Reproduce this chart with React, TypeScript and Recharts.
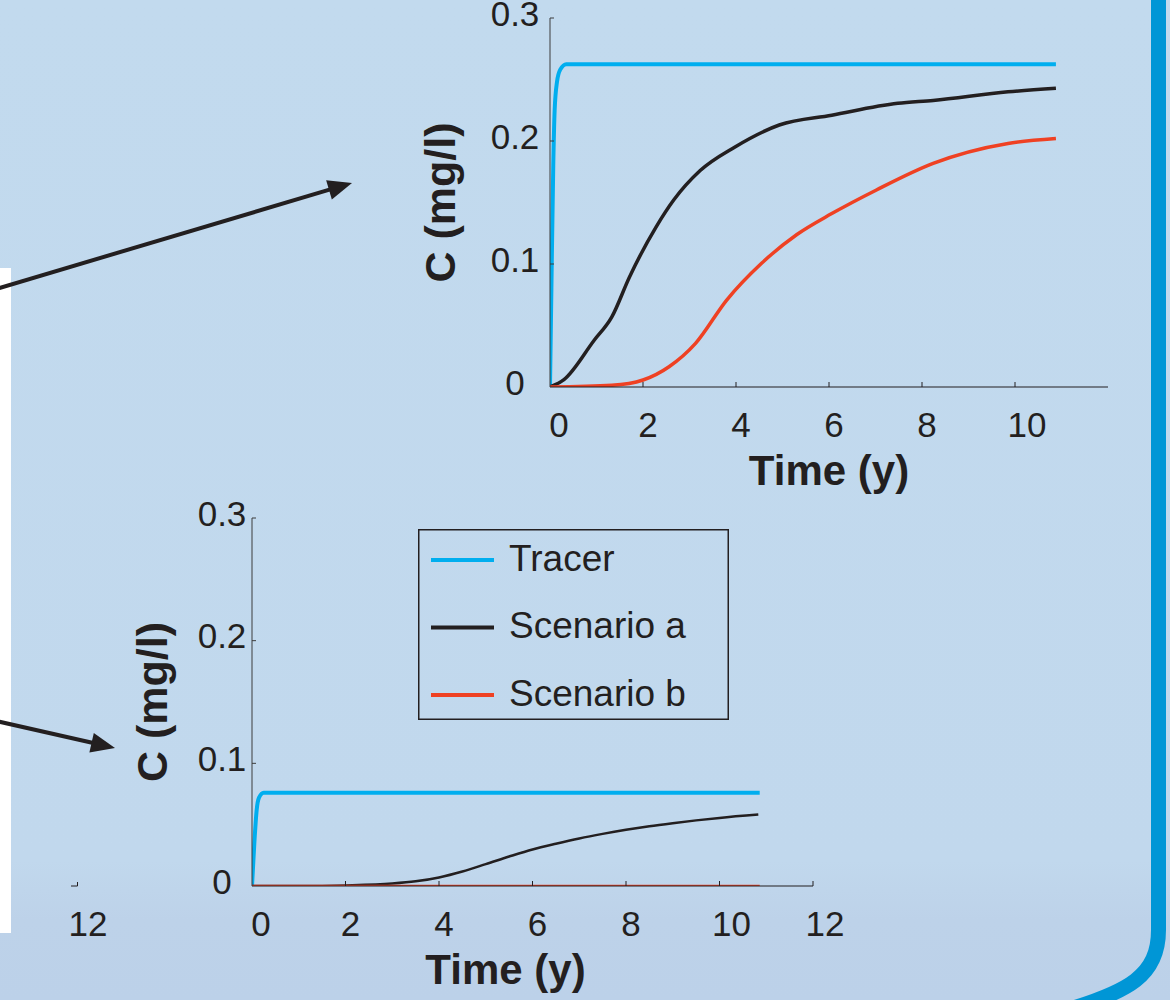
import React from 'react'
import { LineChart, Line, XAxis, YAxis, Legend } from 'recharts'

const FONT = '"Liberation Sans", Arial, Helvetica, sans-serif'
const INK = '#231f20'
const AXIS_GREY = '#3d3d3d'
const TRACER = '#00aeef'
const SCEN_A = '#231f20'
const SCEN_B = '#ef4123'

const seriesNames = ['Tracer', 'Scenario a', 'Scenario b']
const xTicksTop = [0, 2, 4, 6, 8, 10]
const xTicksBottom = [0, 2, 4, 6, 8, 10, 12]
const yTicks = [0, 0.1, 0.2, 0.3]

// upper panel (time in years, concentration in mg/l)
const tracerTopT = [0, 0.03, 0.07, 0.1, 0.15, 0.22, 0.35, 10.88]
const tracerTopC = [0, 0.08, 0.18, 0.225, 0.248, 0.258, 0.2625, 0.2625]
const scenATopT = [0, 0.3, 0.95, 1.33, 1.71, 2.28, 2.66, 3.23, 3.97, 4.93, 6.06, 7.48, 8.24, 9.85, 10.88]
const scenATopC = [0, 0.006, 0.038, 0.057, 0.0895, 0.13, 0.152, 0.176, 0.195, 0.213, 0.221, 0.2306, 0.233, 0.24, 0.2428]
const scenBTopT = [0, 1.33, 2.0, 2.56, 3.13, 3.8, 4.55, 5.31, 6.06, 7.01, 8.24, 9.85, 10.88]
const scenBTopC = [0, 0.0014, 0.0057, 0.0165, 0.0355, 0.0707, 0.1006, 0.124, 0.141, 0.16, 0.1818, 0.198, 0.202]

// lower panel
const tracerBotT = [0, 0.05, 0.1, 0.15, 0.25, 10.86]
const tracerBotC = [0, 0.035, 0.062, 0.072, 0.076, 0.076]
const scenABotT = [0, 1, 2, 3, 3.5, 4, 4.5, 5, 5.5, 6, 6.5, 7, 7.5, 8, 8.5, 9, 9.5, 10, 10.83]
const scenABotC = [0, 0, 0.0005, 0.002, 0.0038, 0.007, 0.0118, 0.0178, 0.024, 0.0298, 0.0345, 0.0388, 0.0425, 0.0458, 0.0487, 0.0512, 0.0535, 0.0555, 0.0582]
const scenBBotT = [0, 5, 10.86]
const scenBBotC = [0, 0, 0]

const toPoints = (t: number[], c: number[]) => t.map((x, i) => ({ t: x, c: c[i] }))

function XTick(props: any) {
  const { x, y, payload } = props
  const v = payload.value
  const label = String(v)
  const dx = label.length > 1 ? 12 : v === 0 ? 9 : 5
  return (
    <g>
      {v !== 0 && <line x1={x} y1={y} x2={x} y2={y - 5} stroke={INK} strokeWidth={1} />}
      <text x={x + dx} y={y + 37} textAnchor="middle" dominantBaseline="central" fontSize={35} fill={INK} fontFamily={FONT}>
        {label}
      </text>
    </g>
  )
}

function YTick(props: any) {
  const { x, y, payload, labelDx } = props
  const v = payload.value
  return (
    <g>
      {v !== 0 && <line x1={x} y1={y} x2={x + 4} y2={y} stroke={AXIS_GREY} strokeWidth={1} />}
      <text x={x + labelDx} y={y - 5} textAnchor="middle" dominantBaseline="central" fontSize={35} fill={INK} fontFamily={FONT}>
        {v === 0 ? '0' : v.toFixed(1)}
      </text>
    </g>
  )
}

const xTitle = (dx: number) => (props: any) => {
  const vb = props.viewBox
  return (
    <text x={vb.x + vb.width / 2 + dx} y={vb.y + 83} textAnchor="middle" dominantBaseline="central" fontSize={42} fontWeight="bold" fill={INK} fontFamily={FONT}>
      Time (y)
    </text>
  )
}

const yTitle = (fromAxis: number) => (props: any) => {
  const vb = props.viewBox
  const cx = vb.x + vb.width - fromAxis
  const cy = vb.y + vb.height / 2
  return (
    <text x={cx} y={cy} transform={`rotate(-90 ${cx} ${cy})`} textAnchor="middle" dominantBaseline="central" fontSize={43} fontWeight="bold" fill={INK} fontFamily={FONT}>
      C (mg/l)
    </text>
  )
}

function LegendBox(props: any) {
  const items = [...(props.payload ?? [])].sort(
    (a: any, b: any) => seriesNames.indexOf(a.value) - seriesNames.indexOf(b.value)
  )
  return (
    <svg width={311} height={191} style={{ display: 'block' }}>
      <rect x={0.75} y={0.75} width={309.5} height={189.5} fill="none" stroke={INK} strokeWidth={1.5} />
      {items.map((it: any, i: number) => {
        const cy = 31 + i * 67.5
        return (
          <g key={it.value}>
            <line x1={13} x2={76} y1={cy} y2={cy} stroke={it.color} strokeWidth={4} />
            <text x={91} y={cy - 2} dominantBaseline="central" fontSize={37} fill={INK} fontFamily={FONT}>
              {it.value}
            </text>
          </g>
        )
      })}
    </svg>
  )
}

function Arrow({ x1, y1, x2, y2 }: { x1: number; y1: number; x2: number; y2: number }) {
  const len = Math.hypot(x2 - x1, y2 - y1)
  const ux = (x2 - x1) / len
  const uy = (y2 - y1) / len
  const bx = x2 - ux * 24
  const by = y2 - uy * 24
  const head = `${x2},${y2} ${bx - uy * 10},${by + ux * 10} ${bx + uy * 10},${by - ux * 10}`
  return (
    <g>
      <line x1={x1} y1={y1} x2={bx + ux * 4} y2={by + uy * 4} stroke={INK} strokeWidth={4} />
      <polygon points={head} fill={INK} />
    </g>
  )
}

export default function App() {
  return (
    <div
      style={{
        position: 'absolute',
        left: 0,
        top: 0,
        width: 1170,
        height: 1000,
        overflow: 'hidden',
        fontFamily: FONT,
        background: 'linear-gradient(to bottom, #c2daee 0%, #c1d8ed 86%, #bdd2e9 92%, #bcd1e9 100%)',
      }}
    >
      <div style={{ position: 'absolute', left: 0, top: 268, width: 11, height: 665, background: '#ffffff' }} />

      <div style={{ position: 'absolute', left: 400, top: 0 }}>
        <LineChart width={770} height={500} margin={{ top: 18, right: 62, bottom: 13, left: 0 }}>
          <XAxis
            type="number"
            dataKey="t"
            domain={[0, 12]}
            ticks={xTicksTop}
            interval={0}
            allowDataOverflow
            height={100}
            tickLine={false}
            tickSize={0}
            tickMargin={0}
            axisLine={{ stroke: INK, strokeWidth: 1.2 }}
            tick={(p: any) => <XTick {...p} />}
            label={xTitle(0)}
          />
          <YAxis
            type="number"
            domain={[0, 0.3]}
            ticks={yTicks}
            interval={0}
            allowDataOverflow
            width={150}
            tickLine={false}
            tickSize={0}
            tickMargin={0}
            axisLine={{ stroke: AXIS_GREY, strokeWidth: 1 }}
            tick={(p: any) => <YTick {...p} labelDx={-35} />}
            label={yTitle(110)}
          />
          <Line data={toPoints(tracerTopT, tracerTopC)} dataKey="c" name="Tracer" type="monotone" stroke={TRACER} strokeWidth={4} dot={false} activeDot={false} isAnimationActive={false} />
          <Line data={toPoints(scenATopT, scenATopC)} dataKey="c" name="Scenario a" type="monotone" stroke={SCEN_A} strokeWidth={3.5} dot={false} activeDot={false} isAnimationActive={false} />
          <Line data={toPoints(scenBTopT, scenBTopC)} dataKey="c" name="Scenario b" type="monotone" stroke={SCEN_B} strokeWidth={3.5} dot={false} activeDot={false} isAnimationActive={false} />
        </LineChart>
      </div>

      <div style={{ position: 'absolute', left: 60, top: 470 }}>
        <LineChart width={800} height={530} margin={{ top: 48, right: 47, bottom: 14, left: 0 }}>
          <XAxis
            type="number"
            dataKey="t"
            domain={[0, 12]}
            ticks={xTicksBottom}
            interval={0}
            allowDataOverflow
            height={100}
            tickLine={false}
            tickSize={0}
            tickMargin={0}
            axisLine={{ stroke: INK, strokeWidth: 1.2 }}
            tick={(p: any) => <XTick {...p} />}
            label={xTitle(-27)}
          />
          <YAxis
            type="number"
            domain={[0, 0.3]}
            ticks={yTicks}
            interval={0}
            allowDataOverflow
            width={192}
            tickLine={false}
            tickSize={0}
            tickMargin={0}
            axisLine={{ stroke: AXIS_GREY, strokeWidth: 1 }}
            tick={(p: any) => <YTick {...p} labelDx={-30} />}
            label={yTitle(100)}
          />
          <Legend
            layout="vertical"
            align="center"
            verticalAlign="middle"
            wrapperStyle={{ left: 358, top: 59, width: 311, height: 191 }}
            content={(p: any) => <LegendBox {...p} />}
          />
          <Line data={toPoints(tracerBotT, tracerBotC)} dataKey="c" name="Tracer" type="monotone" stroke={TRACER} strokeWidth={4} dot={false} activeDot={false} isAnimationActive={false} />
          <Line data={toPoints(scenABotT, scenABotC)} dataKey="c" name="Scenario a" type="monotone" stroke={SCEN_A} strokeWidth={2.5} dot={false} activeDot={false} isAnimationActive={false} />
          <Line data={toPoints(scenBBotT, scenBBotC)} dataKey="c" name="Scenario b" type="monotone" stroke={SCEN_B} strokeWidth={2.5} dot={false} activeDot={false} isAnimationActive={false} />
        </LineChart>
      </div>

      <svg width={1170} height={1000} style={{ position: 'absolute', left: 0, top: 0, pointerEvents: 'none' }}>
        <Arrow x1={-4} y1={289} x2={352} y2={183} />
        <Arrow x1={-4} y1={721} x2={115} y2={748} />
        <path d="M71,886 L77.5,886 L77.5,882" fill="none" stroke={INK} strokeWidth={1} />
        <text x={88} y={923} textAnchor="middle" dominantBaseline="central" fontSize={35} fill={INK} fontFamily={FONT}>
          12
        </text>
        <path d="M1158.5,-5 L1158.5,930 C1158.5,975 1130,992 1060,1012" fill="none" stroke="#0096d6" strokeWidth={15} />
      </svg>
    </div>
  )
}
